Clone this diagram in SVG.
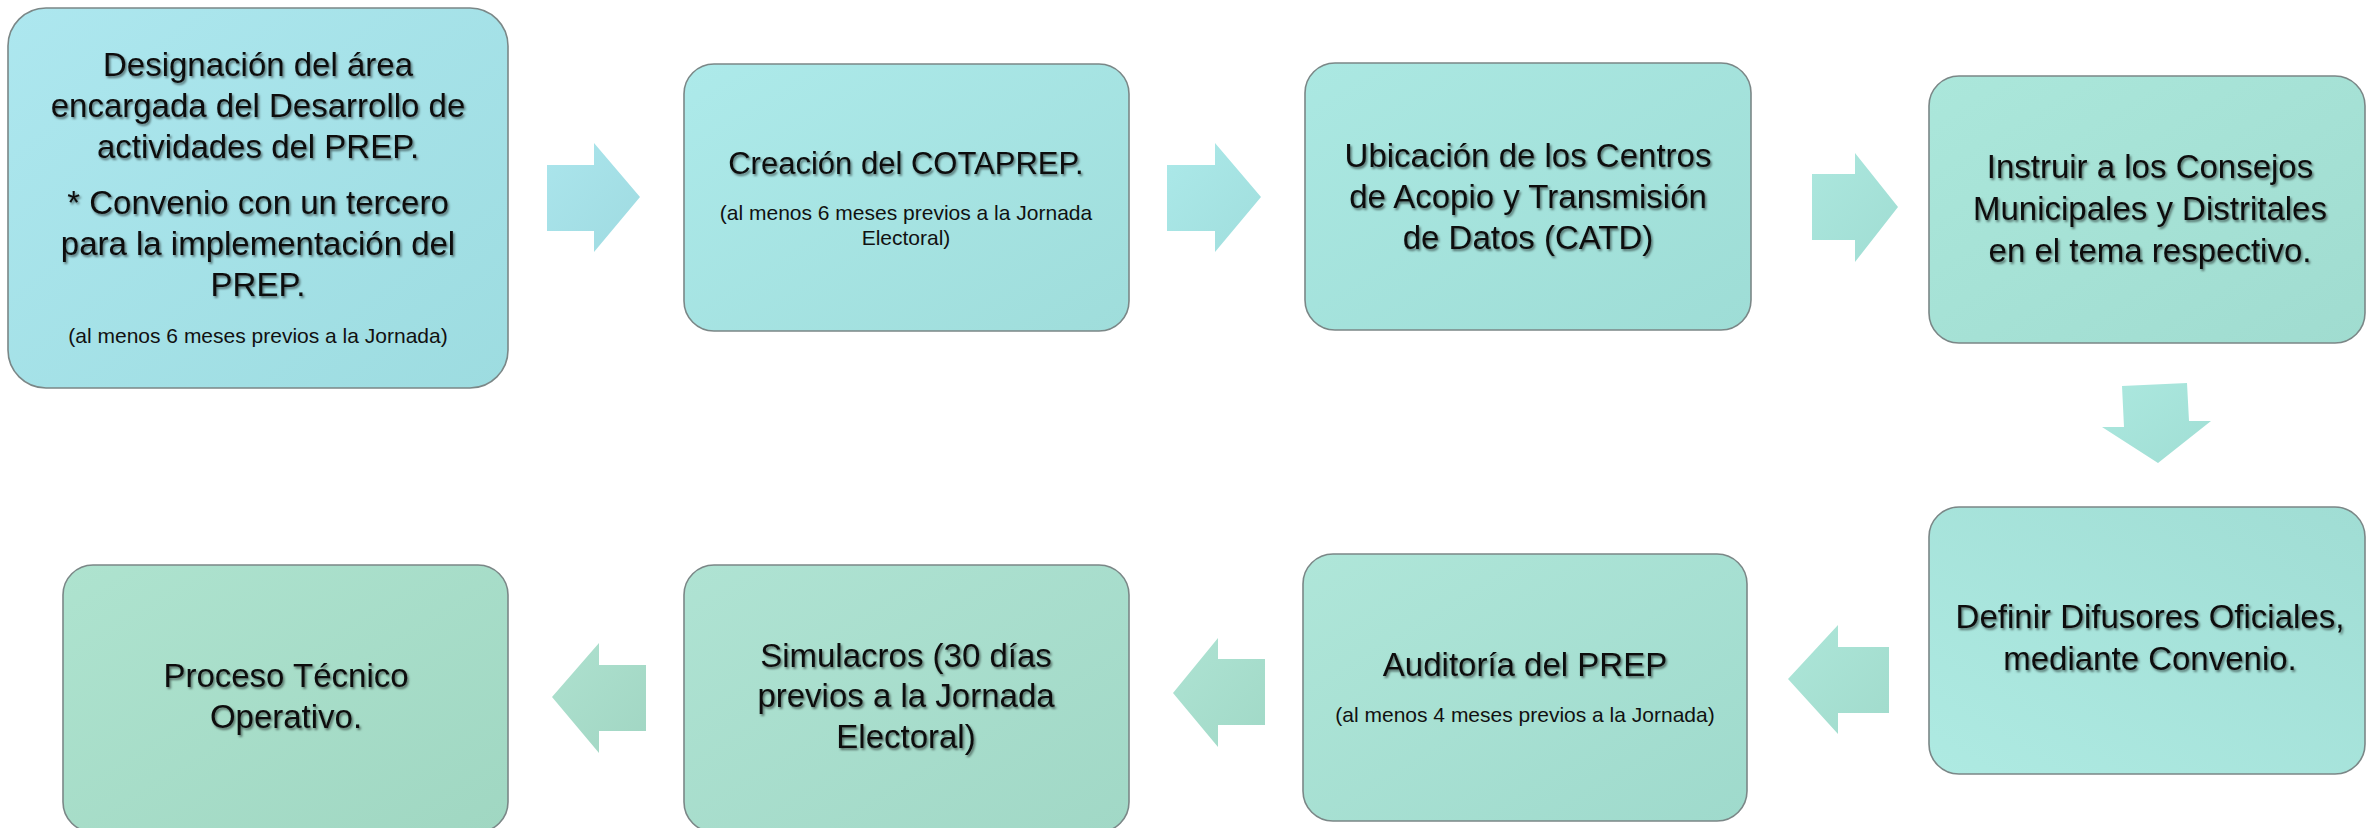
<svg xmlns="http://www.w3.org/2000/svg" width="2366" height="828" viewBox="0 0 2366 828">
<style>
.box{stroke:#7b8787;stroke-width:1.6}
.t{font-family:"Liberation Sans","Open Sans",Arial,sans-serif;font-size:33px;fill:#111;text-anchor:middle;filter:url(#ts)}
.s{font-family:"Liberation Sans","Open Sans",Arial,sans-serif;font-size:21px;fill:#111;text-anchor:middle}
</style>
<defs>
<filter id="ts" x="-10%" y="-30%" width="120%" height="160%">
<feDropShadow dx="1.5" dy="2" stdDeviation="1.2" flood-color="#000" flood-opacity="0.5"/>
</filter>
<linearGradient id="g1" x1="0" y1="0" x2="1" y2="1"><stop offset="0" stop-color="#ADE7EF"/><stop offset="1" stop-color="#9DDCE0"/></linearGradient>
<linearGradient id="g2" x1="0" y1="0" x2="1" y2="1"><stop offset="0" stop-color="#ADEAEA"/><stop offset="1" stop-color="#9FDDDB"/></linearGradient>
<linearGradient id="g3" x1="0" y1="0" x2="1" y2="1"><stop offset="0" stop-color="#ABE8E2"/><stop offset="1" stop-color="#9EDDD6"/></linearGradient>
<linearGradient id="g4" x1="0" y1="0" x2="1" y2="1"><stop offset="0" stop-color="#ABE7DB"/><stop offset="1" stop-color="#A0DCD0"/></linearGradient>
<linearGradient id="g5" x1="0" y1="1" x2="1" y2="0"><stop offset="0" stop-color="#AEEAE2"/><stop offset="1" stop-color="#A0DDD4"/></linearGradient>
<linearGradient id="g6" x1="0" y1="0" x2="1" y2="1"><stop offset="0" stop-color="#AFE6D9"/><stop offset="1" stop-color="#9FDACC"/></linearGradient>
<linearGradient id="g7" x1="0" y1="0" x2="1" y2="1"><stop offset="0" stop-color="#AFE3D3"/><stop offset="1" stop-color="#A1D8C6"/></linearGradient>
<linearGradient id="g8" x1="0" y1="0" x2="1" y2="1"><stop offset="0" stop-color="#AEE3CF"/><stop offset="1" stop-color="#A0D7C2"/></linearGradient>
<linearGradient id="a1" x1="0" y1="0" x2="1" y2="1"><stop offset="0" stop-color="#ABE5EC"/><stop offset="1" stop-color="#9FDBE1"/></linearGradient>
<linearGradient id="a2" x1="0" y1="0" x2="1" y2="1"><stop offset="0" stop-color="#ACE9E9"/><stop offset="1" stop-color="#A0DEDD"/></linearGradient>
<linearGradient id="a3" x1="0" y1="0" x2="1" y2="1"><stop offset="0" stop-color="#ACE7DE"/><stop offset="1" stop-color="#A0DDD3"/></linearGradient>
<linearGradient id="a4" x1="0" y1="0" x2="1" y2="1"><stop offset="0" stop-color="#ACE8DF"/><stop offset="1" stop-color="#A0DED4"/></linearGradient>
<linearGradient id="a5" x1="0" y1="0" x2="1" y2="1"><stop offset="0" stop-color="#ADE6D9"/><stop offset="1" stop-color="#A1DBCC"/></linearGradient>
<linearGradient id="a6" x1="0" y1="0" x2="1" y2="1"><stop offset="0" stop-color="#AEE3D3"/><stop offset="1" stop-color="#A1D9C7"/></linearGradient>
<linearGradient id="a7" x1="0" y1="0" x2="1" y2="1"><stop offset="0" stop-color="#AEE1CF"/><stop offset="1" stop-color="#A1D6C3"/></linearGradient>
</defs>
<rect width="2366" height="828" fill="#fff"/>

<g id="connectors">
<polygon points="547,165 594,165 594,143 640,197 594,252 594,231 547,231" fill="url(#a1)"/>
<polygon points="1167,165 1215,165 1215,143 1261,197 1215,252 1215,231 1167,231" fill="url(#a2)"/>
<polygon points="1812,174 1855,174 1855,153 1898,207 1855,262 1855,240 1812,240" fill="url(#a3)"/>
<polygon points="2122,386 2187,383 2189,421 2211,421 2158,463 2102,427 2124,427" fill="url(#a4)"/>
<polygon points="1889,647 1838,647 1838,625 1788,679 1838,734 1838,713 1889,713" fill="url(#a5)"/>
<polygon points="1265,659 1218,659 1218,638 1173,693 1218,747 1218,725 1265,725" fill="url(#a6)"/>
<polygon points="646,665 599,665 599,643 552,697 599,753 599,731 646,731" fill="url(#a7)"/>
</g>

<g id="n1">
<rect class="box" x="8" y="8" width="500" height="380" rx="38" fill="url(#g1)"/>
<text class="t" x="258" y="76">Designación del área</text>
<text class="t" x="258" y="117">encargada del Desarrollo de</text>
<text class="t" x="258" y="158">actividades del PREP.</text>
<text class="t" x="258" y="214">* Convenio con un tercero</text>
<text class="t" x="258" y="255">para la implementación del</text>
<text class="t" x="258" y="296">PREP.</text>
<text class="s" x="258" y="343">(al menos 6 meses previos a la Jornada)</text>
</g>

<g id="n2">
<rect class="box" x="684" y="64" width="445" height="267" rx="30" fill="url(#g2)"/>
<text class="t" x="906" y="174" style="font-size:31px">Creación del COTAPREP.</text>
<text class="s" x="906" y="220">(al menos 6 meses previos a la Jornada</text>
<text class="s" x="906" y="245">Electoral)</text>
</g>

<g id="n3">
<rect class="box" x="1305" y="63" width="446" height="267" rx="30" fill="url(#g3)"/>
<text class="t" x="1528" y="167">Ubicación de los Centros</text>
<text class="t" x="1528" y="208">de Acopio y Transmisión</text>
<text class="t" x="1528" y="249">de Datos (CATD)</text>
</g>

<g id="n4">
<rect class="box" x="1929" y="76" width="436" height="267" rx="30" fill="url(#g4)"/>
<text class="t" x="2150" y="178">Instruir a los Consejos</text>
<text class="t" x="2150" y="220">Municipales y Distritales</text>
<text class="t" x="2150" y="262">en el tema respectivo.</text>
</g>

<g id="n5">
<rect class="box" x="1929" y="507" width="436" height="267" rx="30" fill="url(#g5)"/>
<text class="t" x="2150" y="628">Definir Difusores Oficiales,</text>
<text class="t" x="2150" y="670">mediante Convenio.</text>
</g>

<g id="n6">
<rect class="box" x="1303" y="554" width="444" height="267" rx="30" fill="url(#g6)"/>
<text class="t" x="1525" y="676">Auditoría del PREP</text>
<text class="s" x="1525" y="722">(al menos 4 meses previos a la Jornada)</text>
</g>

<g id="n7">
<rect class="box" x="684" y="565" width="445" height="267" rx="30" fill="url(#g7)"/>
<text class="t" x="906" y="667">Simulacros (30 días</text>
<text class="t" x="906" y="707">previos a la Jornada</text>
<text class="t" x="906" y="748">Electoral)</text>
</g>

<g id="n8">
<rect class="box" x="63" y="565" width="445" height="267" rx="30" fill="url(#g8)"/>
<text class="t" x="286" y="687">Proceso Técnico</text>
<text class="t" x="286" y="728">Operativo.</text>
</g>
</svg>
